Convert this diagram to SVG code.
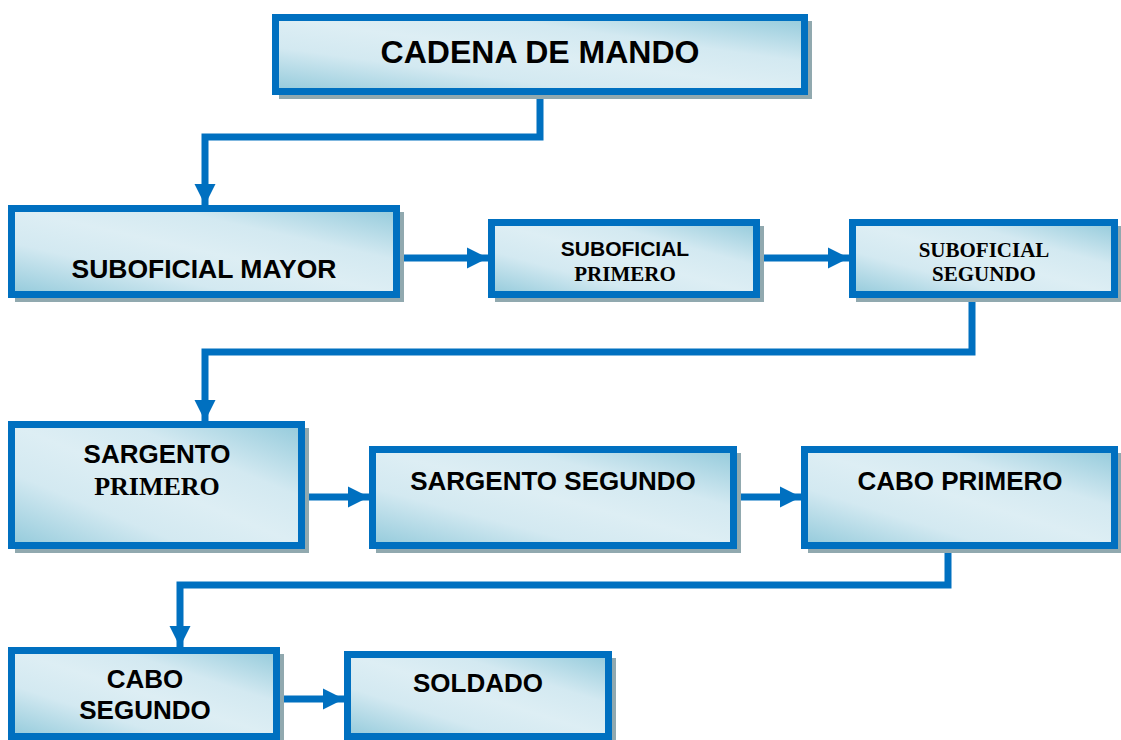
<svg xmlns="http://www.w3.org/2000/svg" width="1121" height="740" viewBox="0 0 1121 740">
<defs>
<linearGradient id="fillg" x1="0" y1="1" x2="1" y2="0">
<stop offset="0" stop-color="#93cadb"/>
<stop offset="0.3" stop-color="#d3e9f1"/>
<stop offset="0.5" stop-color="#ddeef4"/>
<stop offset="0.7" stop-color="#d3e9f1"/>
<stop offset="1" stop-color="#93cadb"/>
</linearGradient>
<marker id="ah" viewBox="0 0 10 10" refX="10" refY="5" markerUnits="userSpaceOnUse" markerWidth="21" markerHeight="24" orient="auto">
<path d="M0,0 L10,5 L0,10 Z" fill="#0070c0"/>
</marker>
</defs>
<style>
.sh{fill:#91a9af}
.bx{fill:url(#fillg);stroke:#0070c0;stroke-width:7}
.c{fill:none;stroke:#0070c0;stroke-width:7;marker-end:url(#ah)}
.a{font-family:"Liberation Sans",Arial,sans-serif;font-weight:bold;fill:#000;text-anchor:middle}
.t{font-family:"Liberation Serif","Times New Roman",serif;font-weight:bold;fill:#000;text-anchor:middle}
</style>
<rect width="1121" height="740" fill="#fff"/>

<g id="connectors">
<polyline class="c" points="540,95 540,137 205,137 205,205"/>
<line class="c" x1="400" y1="258" x2="488" y2="258"/>
<line class="c" x1="760" y1="258" x2="849" y2="258"/>
<polyline class="c" points="972,298 972,352 205,352 205,421"/>
<line class="c" x1="305" y1="497" x2="369" y2="497"/>
<line class="c" x1="737" y1="497" x2="801" y2="497"/>
<polyline class="c" points="948,549 948,585 180,585 180,647"/>
<line class="c" x1="280" y1="699" x2="344" y2="699"/>
</g>

<g id="n-cadena">
<rect class="sh" x="279" y="21" width="533" height="78"/>
<rect class="bx" x="275.5" y="17.5" width="529" height="74"/>
<text class="a" x="540" y="63" font-size="32">CADENA DE MANDO</text>
</g>

<g id="n-suboficial-mayor">
<rect class="sh" x="15" y="212" width="389" height="90"/>
<rect class="bx" x="11.5" y="208.5" width="385" height="86"/>
<text class="a" x="204" y="278" font-size="26.5">SUBOFICIAL MAYOR</text>
</g>

<g id="n-suboficial-primero">
<rect class="sh" x="495" y="226" width="269" height="76"/>
<rect class="bx" x="491.5" y="222.5" width="265" height="72"/>
<text class="a" x="625" y="256" font-size="21">SUBOFICIAL</text>
<text class="t" x="625" y="281" font-size="21">PRIMERO</text>
</g>

<g id="n-suboficial-segundo">
<rect class="sh" x="856" y="226" width="266" height="76"/>
<rect class="bx" x="852.5" y="222.5" width="262" height="72"/>
<text class="t" x="984" y="257" font-size="21">SUBOFICIAL</text>
<text class="t" x="984" y="281" font-size="21">SEGUNDO</text>
</g>

<g id="n-sargento-primero">
<rect class="sh" x="15" y="428" width="294" height="125"/>
<rect class="bx" x="11.5" y="424.5" width="290" height="121"/>
<text class="a" x="157" y="463" font-size="26">SARGENTO</text>
<text class="t" x="157" y="495" font-size="26">PRIMERO</text>
</g>

<g id="n-sargento-segundo">
<rect class="sh" x="376" y="453" width="365" height="100"/>
<rect class="bx" x="372.5" y="449.5" width="361" height="96"/>
<text class="a" x="553" y="490" font-size="26">SARGENTO SEGUNDO</text>
</g>

<g id="n-cabo-primero">
<rect class="sh" x="808" y="453" width="314" height="100"/>
<rect class="bx" x="804.5" y="449.5" width="310" height="96"/>
<text class="a" x="960" y="490" font-size="26">CABO PRIMERO</text>
</g>

<g id="n-cabo-segundo">
<rect class="sh" x="15" y="654" width="269" height="92"/>
<rect class="bx" x="11.5" y="650.5" width="265" height="86"/>
<text class="a" x="145" y="688" font-size="26">CABO</text>
<text class="a" x="145" y="719" font-size="26">SEGUNDO</text>
</g>

<g id="n-soldado">
<rect class="sh" x="351" y="658" width="265" height="88"/>
<rect class="bx" x="347.5" y="654.5" width="261" height="82"/>
<text class="a" x="478" y="692" font-size="26">SOLDADO</text>
</g>
</svg>
